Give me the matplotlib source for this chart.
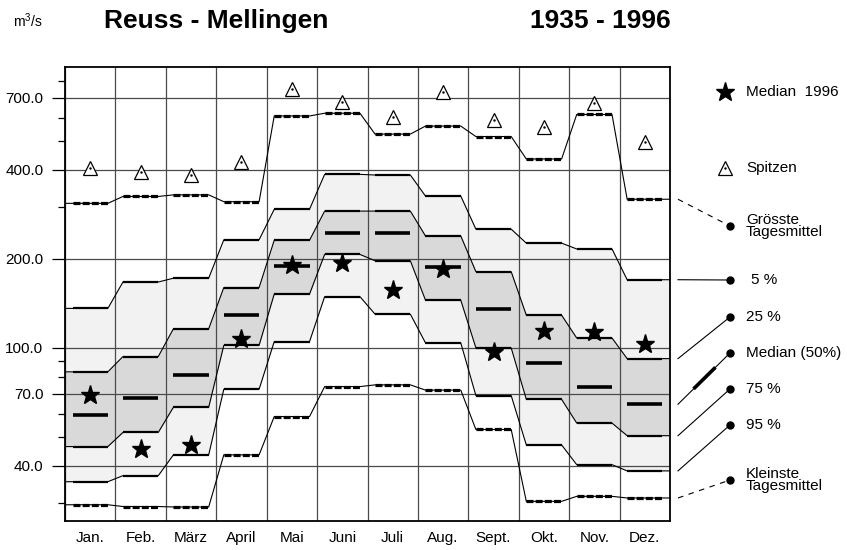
import matplotlib
matplotlib.use("Agg")
import matplotlib.pyplot as plt
import numpy as np
from matplotlib.ticker import NullFormatter

plt.rcParams['font.family'] = ['Liberation Sans', 'DejaVu Sans']
plt.rcParams['mathtext.default'] = 'regular'
plt.rcParams['lines.scale_dashes'] = False

# ---------------- data ----------------
months = ["Jan.", "Feb.", "März", "April", "Mai", "Juni", "Juli", "Aug.",
          "Sept.", "Okt.", "Nov.", "Dez."]
peak = [405, 394, 384, 424, 750, 679, 604, 731, 589, 557, 671, 498]
max_daily = [308, 325, 329, 312, 608, 621, 528, 562, 518, 435, 615, 318]
q05 = [136, 167, 172, 232, 294, 386, 384, 326, 252, 226, 216, 170]
q25 = [83, 93.5, 116, 160, 231, 290, 290, 239, 181, 129, 108, 92]
q50 = [59.4, 67.9, 81, 129, 189, 245, 244, 187, 135, 89, 74, 64.5]
q75 = [46.4, 51.8, 63, 102, 152, 207, 197, 145, 100, 67, 55.7, 50.5]
q95 = [35.3, 37, 43.5, 72.5, 105, 149, 130, 104, 69, 47, 40.3, 38.4]
min_daily = [29.5, 29.1, 29.0, 43.5, 58.6, 74, 75, 72, 53, 30.3, 31.5, 31.1]
median_1996 = [69.3, 45.5, 47, 107, 191, 194, 157, 185, 97, 114, 113, 103]
major_ticks = [40, 70, 100, 200, 400, 700]
minor_ticks = [30, 50, 60, 80, 90, 300, 500, 600, 800]

W, H = 847, 550
fig = plt.figure(figsize=(W / 100, H / 100), dpi=100)
ax = fig.add_axes([65 / W, 1 - 521 / H, 605 / W, 454 / H])

n = len(months)
centers = np.arange(n) + 0.5
x0 = np.arange(n) + 0.15
x1 = np.arange(n) + 0.85


def step_xy(vals):
    xs = [0.0]
    ys = [vals[0]]
    for i, v in enumerate(vals):
        xs += [i + 0.15, i + 0.85]
        ys += [v, v]
    xs.append(float(n))
    ys.append(vals[-1])
    return np.array(xs), np.array(ys)


xs, y05 = step_xy(q05)
_, y25 = step_xy(q25)
_, y75 = step_xy(q75)
_, y95 = step_xy(q95)
_, ymax = step_xy(max_daily)
_, ymin = step_xy(min_daily)

ax.fill_between(xs, y95, y05, color='#f2f2f2', lw=0, zorder=0.2)
ax.fill_between(xs, y75, y25, color='#d9d9d9', lw=0, zorder=0.3)

for yy in (y05, y25, y75, y95, ymax, ymin):
    ax.plot(xs, yy, color='k', lw=0.8, zorder=2)

for vals in (q05, q25, q75, q95):
    ax.hlines(vals, x0, x1, color='k', lw=1.6, zorder=3)

for vals in (max_daily, min_daily):
    ax.hlines(vals, x0, x1, color='k', lw=2.3, linestyles=[(0, (5, 1.6))], zorder=3)

ax.hlines(q50, x0, x1, color='k', lw=2.6, zorder=4)

ax.plot(centers, median_1996, linestyle='none', marker='*', ms=14, color='k', zorder=5)
ax.plot(centers, peak, linestyle='none', marker='^', ms=10, mfc='white', mec='k',
        mew=0.9, zorder=5)
ax.plot(centers, peak, linestyle='none', marker='.', ms=1.5, color='k', zorder=6)

ax.set_yscale('log')
ax.set_ylim(26, 890)
ax.set_xlim(0, n)
ax.set_yticks(major_ticks)
ax.set_yticklabels([f"{v:.1f}" for v in major_ticks])
ax.set_yticks(minor_ticks, minor=True)
ax.yaxis.set_minor_formatter(NullFormatter())
ax.tick_params(axis='y', which='major', length=9.5, width=0.9, pad=6, labelsize=11)
ax.tick_params(axis='y', which='minor', length=5, width=0.9)
ax.set_xticks(centers)
ax.set_xticklabels(months)
ax.set_xticks(np.arange(n + 1), minor=True)
ax.tick_params(axis='x', which='both', length=0, pad=7, labelsize=11)
ax.set_axisbelow(True)
ax.grid(True, axis='y', which='major', color='#4a4a4a', lw=0.9)
ax.grid(True, axis='x', which='minor', color='#4a4a4a', lw=0.9)
ax.grid(False, axis='y', which='minor')
ax.grid(False, axis='x', which='major')
for s in ax.spines.values():
    s.set_linewidth(1.3)

# ---------------- titles ----------------
fig.text(13 / W, 1 - 21 / H, "m$^3$/s", fontsize=10, va='center', ha='left')
fig.text(104 / W, 1 - 21 / H, "Reuss - Mellingen", fontsize=19, fontweight='bold',
         va='center', ha='left')
fig.text(530 / W, 1 - 21 / H, "1935 - 1996", fontsize=19, fontweight='bold',
         va='center', ha='left')

# ---------------- legend (overlay in pixel coordinates) ----------------
ov = fig.add_axes([0, 0, 1, 1])
ov.set_xlim(0, W)
ov.set_ylim(H, 0)
ov.axis('off')
ov.patch.set_alpha(0)


def ypix(v):
    return H - ax.transData.transform((n, v))[1]


ov.plot([725], [92], marker='*', ms=14, color='k', linestyle='none')
ov.text(746, 92, "Median  1996", fontsize=11, va='center', ha='left')
ov.plot([725], [168], marker='^', ms=10, mfc='white', mec='k', mew=0.9, linestyle='none')
ov.plot([725], [168], marker='.', ms=1.5, color='k', linestyle='none')
ov.text(746, 168, "Spitzen", fontsize=11, va='center', ha='left')

leaders = [
    (max_daily[-1], 226, "Grösste\nTagesmittel", 'dashed', 746),
    (q05[-1], 280, "5 %", 'solid', 751),
    (q25[-1], 317, "25 %", 'solid', 746),
    (q50[-1], 353, "Median (50%)", 'solid', 746),
    (q75[-1], 389, "75 %", 'solid', 746),
    (q95[-1], 425, "95 %", 'solid', 746),
    (min_daily[-1], 480, "Kleinste\nTagesmittel", 'dashed', 746),
]
for val, yend, label, ls, tx in leaders:
    ys = ypix(val)
    if ls == 'dashed':
        ov.plot([678, 730], [ys, yend], color='k', lw=0.8, linestyle=(0, (4, 4)))
    else:
        ov.plot([678, 730], [ys, yend], color='k', lw=0.8)
    ov.plot([730], [yend], marker='o', ms=5, color='k')
    ov.text(tx, yend, label, fontsize=11, va='center', ha='left', linespacing=0.9)
    if label.startswith("Median"):
        f0, f1 = 0.3, 0.72
        ov.plot([678 + f0 * 52, 678 + f1 * 52],
                [ys + f0 * (yend - ys), ys + f1 * (yend - ys)], color='k', lw=2.6,
                solid_capstyle='butt')

fig.savefig("out.png", dpi=100)
